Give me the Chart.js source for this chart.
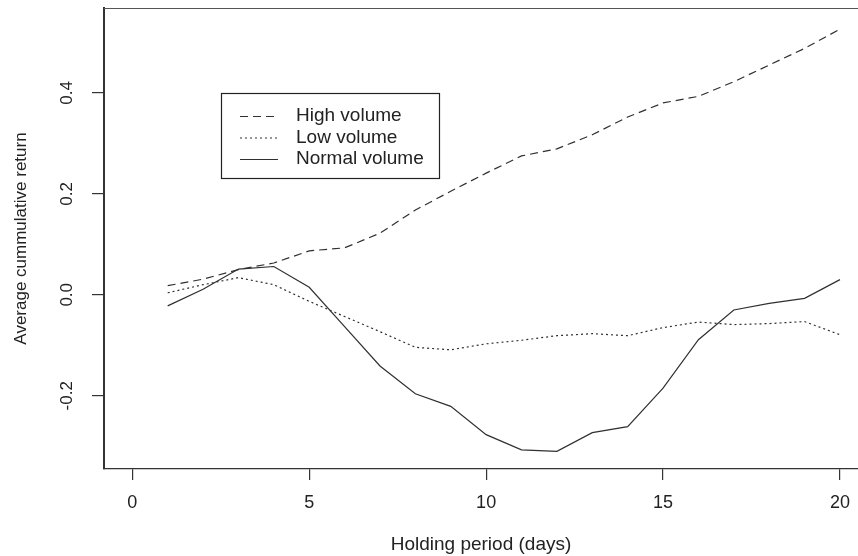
<!DOCTYPE html>
<html>
<head>
<meta charset="utf-8">
<script src="https://cdn.jsdelivr.net/npm/chart.js@4/dist/chart.umd.min.js"></script>
<style>
html,body{margin:0;padding:0;background:#fff;overflow:hidden;}
#wrap{width:858px;height:556px;}
</style>
</head>
<body>
<div id="wrap"><canvas id="c" width="858" height="556"></canvas></div>
<script>
const days = [1,2,3,4,5,6,7,8,9,10,11,12,13,14,15,16,17,18,19,20];
const highVolume = [0.018,0.031,0.050,0.063,0.087,0.093,0.122,0.168,0.205,0.241,0.275,0.289,0.317,0.352,0.380,0.393,0.422,0.455,0.488,0.526];
const lowVolume = [0.004,0.020,0.034,0.020,-0.013,-0.043,-0.073,-0.104,-0.109,-0.097,-0.090,-0.081,-0.077,-0.081,-0.065,-0.054,-0.059,-0.057,-0.053,-0.079];
const normalVolume = [-0.022,0.011,0.051,0.056,0.015,-0.063,-0.141,-0.196,-0.221,-0.277,-0.307,-0.310,-0.273,-0.261,-0.185,-0.089,-0.030,-0.017,-0.007,0.030];
const seriesNames = ['High volume','Low volume','Normal volume'];
const xTicks = [0,5,10,15,20];
const yTicks = [-0.2,0.0,0.2,0.4];
const yTickLabels = ['-0.2','0.0','0.2','0.4'];
const xTitle = 'Holding period (days)';
const yTitle = 'Average cummulative return';

const FONT = "'Liberation Sans', Arial, sans-serif";
const ink = '#222';
const dashes = [[8,5],[2,3],[]];
const allSeries = [highVolume, lowVolume, normalVolume];

const datasets = allSeries.map((s,i)=>({
  label: seriesNames[i],
  data: s.map((v,j)=>({x:days[j], y:v})),
  borderColor: '#303030',
  borderWidth: 1.2,
  borderDash: dashes[i],
  pointRadius: 0,
  fill: false,
  tension: 0
}));

const decor = {
  id: 'decor',
  afterDraw(chart){
    const ctx = chart.ctx, a = chart.chartArea, ys = chart.scales.y;
    ctx.save();
    // top border of the box
    ctx.strokeStyle = '#555'; ctx.lineWidth = 1.2;
    ctx.beginPath(); ctx.moveTo(a.left, a.top+0.5); ctx.lineTo(a.right, a.top+0.5); ctx.stroke();
    // rotated y tick labels
    ctx.fillStyle = ink;
    ctx.font = "17px " + FONT;
    ctx.textAlign = 'center'; ctx.textBaseline = 'middle';
    yTicks.forEach((v,i)=>{
      const py = ys.getPixelForValue(v);
      ctx.save();
      ctx.translate(67, py);
      ctx.rotate(-Math.PI/2);
      ctx.fillText(yTickLabels[i], 0, 0);
      ctx.restore();
    });
    // legend box
    const bx = 221, by = 93, bw = 218, bh = 85;
    ctx.strokeStyle = ink; ctx.lineWidth = 1.2;
    ctx.strokeRect(bx+0.5, by+0.5, bw, bh);
    const rows = [116, 137.5, 159];
    ctx.font = "19px " + FONT;
    ctx.textAlign = 'left'; ctx.textBaseline = 'middle';
    seriesNames.forEach((n,i)=>{
      ctx.strokeStyle = '#303030'; ctx.lineWidth = 1.2;
      ctx.setLineDash(dashes[i]);
      ctx.beginPath(); ctx.moveTo(240, rows[i]+0.5); ctx.lineTo(278, rows[i]+0.5); ctx.stroke();
      ctx.setLineDash([]);
      ctx.fillStyle = ink;
      ctx.fillText(n, 296, rows[i]);
    });
    ctx.restore();
  }
};

new Chart(document.getElementById('c'), {
  type: 'line',
  data: { datasets },
  plugins: [decor],
  options: {
    responsive: false,
    animation: false,
    devicePixelRatio: 1,
    layout: { padding: { top: 8, right: 0, left: 0, bottom: 0 } },
    plugins: { legend: { display: false }, tooltip: { enabled: false } },
    scales: {
      x: {
        type: 'linear',
        min: -0.8, max: 20.51,
        afterBuildTicks: s => { s.ticks = xTicks.map(v=>({value:v})); },
        afterFit: s => { s.height = 87; s.paddingLeft = 0; s.paddingRight = 0; },
        border: { display: true, color: '#333', width: 1.2 },
        grid: { drawOnChartArea: false, drawTicks: true, tickLength: 11, color: '#333', lineWidth: 1.2 },
        ticks: { color: ink, font: { family: FONT, size: 18 }, padding: 12, maxRotation: 0, autoSkip: false,
                 callback: v => String(v) },
        title: { display: true, text: xTitle, color: ink, font: { family: FONT, size: 19 }, padding: { top: 0, bottom: 0 } }
      },
      y: {
        type: 'linear',
        min: -0.345, max: 0.568,
        afterBuildTicks: s => { s.ticks = yTicks.map(v=>({value:v})); },
        afterFit: s => { s.width = 104; s.paddingTop = 0; s.paddingBottom = 0; },
        border: { display: true, color: '#333', width: 2 },
        grid: { drawOnChartArea: false, drawTicks: true, tickLength: 12, color: '#333', lineWidth: 1.2 },
        ticks: { display: false },
        title: { display: true, text: yTitle, color: ink, font: { family: FONT, size: 17 }, padding: { top: 11, bottom: 0 } }
      }
    }
  }
});
</script>
</body>
</html>
